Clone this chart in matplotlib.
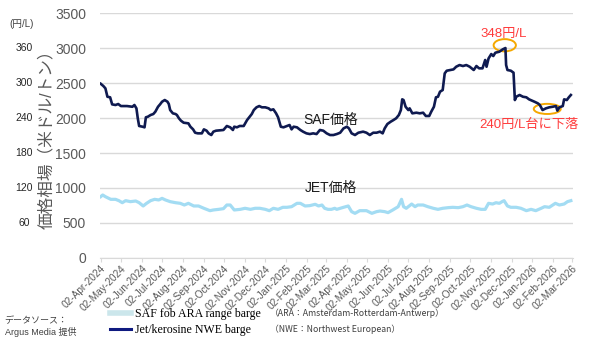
import pandas as pd
import matplotlib
matplotlib.use('Agg')
import matplotlib.pyplot as plt
import matplotlib.dates as mdates
from matplotlib.patches import Ellipse
from matplotlib.lines import Line2D

plt.rcParams['font.family'] = ['Liberation Sans', 'Noto Sans CJK JP', 'DejaVu Sans']

# 価格データ（米ドル/トン）
saf_dates = [
    '2024-04-02', '2024-04-06', '2024-04-09', '2024-04-12', '2024-04-16', '2024-04-19', '2024-04-24', '2024-04-28',
    '2024-05-02', '2024-05-11', '2024-05-19', '2024-05-22', '2024-05-25', '2024-05-27', '2024-05-29', '2024-06-03',
    '2024-06-06', '2024-06-08', '2024-06-11', '2024-06-15', '2024-06-19', '2024-06-22', '2024-06-26', '2024-06-29',
    '2024-07-02', '2024-07-06', '2024-07-10', '2024-07-12', '2024-07-14', '2024-07-18', '2024-07-22', '2024-07-24',
    '2024-07-27', '2024-07-30', '2024-08-03', '2024-08-10', '2024-08-13', '2024-08-17', '2024-08-20', '2024-08-24',
    '2024-08-30', '2024-09-02', '2024-09-06', '2024-09-09', '2024-09-13', '2024-09-16', '2024-09-20', '2024-10-01',
    '2024-10-06', '2024-10-11', '2024-10-15', '2024-10-17', '2024-10-21', '2024-10-25', '2024-10-31', '2024-11-05',
    '2024-11-09', '2024-11-12', '2024-11-15', '2024-11-19', '2024-11-23', '2024-11-27', '2024-12-02', '2024-12-07',
    '2024-12-10', '2024-12-14', '2024-12-18', '2024-12-21', '2024-12-25', '2024-12-29', '2025-01-03', '2025-01-07',
    '2025-01-10', '2025-01-13', '2025-01-18', '2025-01-23', '2025-01-27', '2025-02-01', '2025-02-06', '2025-02-11',
    '2025-02-16', '2025-02-21', '2025-02-26', '2025-03-03', '2025-03-08', '2025-03-13', '2025-03-18', '2025-03-23',
    '2025-03-28', '2025-04-02', '2025-04-05', '2025-04-09', '2025-04-14', '2025-04-19', '2025-04-26', '2025-05-01',
    '2025-05-06', '2025-05-11', '2025-05-16', '2025-05-21', '2025-05-25', '2025-05-28', '2025-06-01', '2025-06-06',
    '2025-06-10', '2025-06-14', '2025-06-18', '2025-06-21', '2025-06-23', '2025-06-25', '2025-06-28', '2025-07-02',
    '2025-07-04', '2025-07-08', '2025-07-14', '2025-07-19', '2025-07-24', '2025-07-28', '2025-08-02', '2025-08-05',
    '2025-08-09', '2025-08-12', '2025-08-15', '2025-08-18', '2025-08-22', '2025-08-25', '2025-08-28', '2025-09-02',
    '2025-09-07', '2025-09-11', '2025-09-16', '2025-09-21', '2025-09-26', '2025-10-01', '2025-10-07', '2025-10-11',
    '2025-10-15', '2025-10-20', '2025-10-24', '2025-10-26', '2025-10-29', '2025-11-02', '2025-11-05', '2025-11-08',
    '2025-11-14', '2025-11-19', '2025-11-23', '2025-11-24', '2025-11-26', '2025-12-01', '2025-12-05', '2025-12-07',
    '2025-12-09', '2025-12-14', '2025-12-19', '2025-12-24', '2025-12-28', '2026-01-05', '2026-01-10', '2026-01-13',
    '2026-01-17', '2026-01-22', '2026-01-27', '2026-02-01', '2026-02-06', '2026-02-08', '2026-02-11', '2026-02-16',
    '2026-02-18', '2026-02-22', '2026-02-25', '2026-02-28',
]
saf_price = [
    2490, 2457, 2424, 2304, 2296, 2195, 2186, 2200,
    2171, 2171, 2161, 2186, 2138, 1996, 1886, 1876,
    1867, 2010, 2019, 2043, 2057, 2090, 2161, 2195,
    2233, 2257, 2233, 2200, 2114, 2067, 2057, 2043,
    1996, 1962, 1933, 1924, 1876, 1838, 1790, 1781,
    1781, 1838, 1819, 1781, 1757, 1805, 1819, 1829,
    1886, 1867, 1829, 1876, 1867, 1886, 1886, 1971,
    2019, 2057, 2114, 2153, 2171, 2153, 2153, 2138,
    2114, 2124, 2067, 2010, 1876, 1867, 1886, 1900,
    1838, 1876, 1867, 1829, 1805, 1781, 1771, 1781,
    1771, 1829, 1819, 1781, 1757, 1757, 1771, 1790,
    1852, 1876, 1852, 1781, 1757, 1790, 1805, 1790,
    1757, 1790, 1790, 1805, 1781, 1852, 1914, 1948,
    1971, 1996, 2043, 2114, 2267, 2257, 2161, 2114,
    2138, 2067, 2076, 2067, 2076, 2029, 2029, 2090,
    2161, 2296, 2304, 2376, 2400, 2638, 2676, 2686,
    2695, 2733, 2757, 2743, 2757, 2733, 2686, 2743,
    2710, 2710, 2829, 2733, 2852, 2914, 2886, 2933,
    2948, 2981, 3000, 2757, 2686, 2676, 2648, 2257,
    2304, 2329, 2304, 2296, 2267, 2233, 2210, 2186,
    2114, 2138, 2153, 2161, 2171, 2105, 2153, 2171,
    2267, 2257, 2296, 2329,
]

jet_dates = [
    '2024-04-02', '2024-04-05', '2024-04-09', '2024-04-17', '2024-04-24', '2024-04-29', '2024-05-04', '2024-05-09',
    '2024-05-16', '2024-05-24', '2024-05-29', '2024-06-04', '2024-06-09', '2024-06-15', '2024-06-21', '2024-06-27',
    '2024-07-02', '2024-07-07', '2024-07-14', '2024-07-22', '2024-07-29', '2024-08-04', '2024-08-10', '2024-08-18',
    '2024-08-25', '2024-09-02', '2024-09-11', '2024-09-16', '2024-09-24', '2024-10-01', '2024-10-06', '2024-10-11',
    '2024-10-17', '2024-10-26', '2024-11-02', '2024-11-10', '2024-11-17', '2024-11-24', '2024-12-02', '2024-12-08',
    '2024-12-14', '2024-12-21', '2024-12-28', '2025-01-03', '2025-01-10', '2025-01-18', '2025-01-23', '2025-01-30',
    '2025-02-06', '2025-02-14', '2025-02-19', '2025-02-24', '2025-02-28', '2025-03-05', '2025-03-10', '2025-03-15',
    '2025-03-18', '2025-03-28', '2025-04-04', '2025-04-09', '2025-04-14', '2025-04-21', '2025-05-01', '2025-05-09',
    '2025-05-16', '2025-05-21', '2025-05-28', '2025-06-02', '2025-06-09', '2025-06-17', '2025-06-22', '2025-06-25',
    '2025-06-29', '2025-07-07', '2025-07-12', '2025-07-16', '2025-07-24', '2025-07-31', '2025-08-08', '2025-08-15',
    '2025-08-22', '2025-08-30', '2025-09-06', '2025-09-14', '2025-09-21', '2025-09-27', '2025-10-03', '2025-10-11',
    '2025-10-18', '2025-10-24', '2025-10-29', '2025-11-04', '2025-11-09', '2025-11-14', '2025-11-18', '2025-11-21',
    '2025-11-26', '2025-12-01', '2025-12-09', '2025-12-16', '2025-12-24', '2025-12-31', '2026-01-07', '2026-01-15',
    '2026-01-20', '2026-01-27', '2026-02-05', '2026-02-11', '2026-02-18', '2026-02-23', '2026-02-28',
]
jet_price = [
    876, 900, 876, 838, 838, 819, 790, 819,
    805, 814, 790, 743, 781, 819, 838, 829,
    852, 829, 805, 790, 781, 757, 781, 743,
    743, 710, 676, 686, 695, 705, 757, 757,
    686, 695, 710, 695, 710, 710, 695, 676,
    710, 695, 724, 724, 733, 781, 781, 743,
    748, 767, 743, 757, 710, 695, 695, 710,
    695, 724, 743, 662, 638, 676, 676, 638,
    662, 671, 662, 648, 686, 733, 838, 733,
    710, 771, 733, 757, 757, 733, 710, 695,
    710, 719, 724, 719, 733, 757, 733, 710,
    695, 695, 781, 771, 790, 781, 805, 819,
    743, 724, 724, 710, 676, 695, 676, 710,
    733, 724, 781, 757, 771, 805, 819,
]

yen_ticks = [60, 120, 180, 240, 300, 360]
yen_pos = [500, 1000, 1500, 2000, 2500, 3000]

saf = pd.Series(saf_price, index=pd.to_datetime(saf_dates))
jet = pd.Series(jet_price, index=pd.to_datetime(jet_dates))

fig = plt.figure(figsize=(5.9, 3.39), dpi=100)
ax = fig.add_axes([0.1695, 0.239, 0.8015, 0.7225])

ax.plot(jet.index, jet.values, color='#a3dcf3', lw=2.3, solid_joinstyle='round')
ax.plot(saf.index, saf.values, color='#0f1a50', lw=1.9, solid_joinstyle='round')

ax.set_ylim(0, 3500)
ax.set_yticks(range(0, 3501, 500))
ax.set_xlim(pd.Timestamp('2024-04-01'), pd.Timestamp('2026-03-03'))
ax.grid(axis='y', color='#d9d9d9', lw=1)
ax.set_axisbelow(True)
for s in ['top', 'right', 'left']:
    ax.spines[s].set_visible(False)
ax.spines['bottom'].set_color('#d9d9d9')

# 毎月2日に目盛り
months = pd.date_range('2024-04-01', '2026-03-01', freq='MS') + pd.Timedelta(days=1)
ax.set_xticks(months)
ax.xaxis.set_major_formatter(mdates.DateFormatter('%d-%b-%Y'))
ax.tick_params(axis='x', length=3, color='#d9d9d9', labelsize=7.3, labelcolor='#595959', pad=1)
for lbl in ax.get_xticklabels():
    lbl.set_rotation(45)
    lbl.set_ha('right')
    lbl.set_rotation_mode('anchor')
ax.tick_params(axis='y', length=0, labelsize=10, labelcolor='#595959', pad=10)

ax.set_ylabel('価格相場（米ドル/トン）', fontsize=12, color='#595959', labelpad=1)

# 円/L 目盛り
ax.text(-0.165, 3350, '(円/L)', transform=ax.get_yaxis_transform(), fontsize=7,
        ha='center', va='center', color='#404040')
for v, p in zip(yen_ticks, yen_pos):
    ax.text(-0.16, p, str(v), transform=ax.get_yaxis_transform(), fontsize=7.5,
            ha='center', va='center', color='#262626')

ax.text(pd.Timestamp('2025-03-09'), 1971, 'SAF価格', fontsize=10, ha='center', va='center', color='#1a1a1a')
ax.text(pd.Timestamp('2025-03-09'), 1000, 'JET価格', fontsize=10, ha='center', va='center', color='#1a1a1a')

ax.text(pd.Timestamp('2025-11-21'), 3196, '348円/L', fontsize=9.5, ha='center', va='center', color='#ff3b3b')
ax.text(pd.Timestamp('2025-12-28'), 1900, '240円/L台に下落', fontsize=9.5, ha='center', va='center', color='#ff3b3b')

x1 = mdates.date2num(pd.Timestamp('2025-11-22'))
x2 = mdates.date2num(pd.Timestamp('2026-01-24'))
ax.add_patch(Ellipse((x1, 3040), 33, 175, fill=False, ec='#f5a800', lw=1.4, clip_on=False))
ax.add_patch(Ellipse((x2, 2130), 40, 145, fill=False, ec='#f5a800', lw=1.4, clip_on=False))

handles = [Line2D([], [], color='#cbe6eb', lw=4),
           Line2D([], [], color='#0f1a80', lw=2.2)]
fig.legend(handles, ['SAF fob ARA range barge', 'Jet/kerosine NWE barge'],
           loc='center left', bbox_to_anchor=(0.176, 0.05), frameon=False,
           prop={'family': 'Liberation Serif', 'size': 8.6}, handlelength=1.8,
           handletextpad=0.35, labelspacing=0.35, borderpad=0)

fig.text(0.458, 0.077, '（ARA：Amsterdam-Rotterdam-Antwerp）', fontsize=6.3, color='#404040',
         va='center', family=['Noto Sans CJK JP'])
fig.text(0.458, 0.029, '（NWE：Northwest European）', fontsize=6.3, color='#404040',
         va='center', family=['Noto Sans CJK JP'])

fig.text(0.008, 0.055, 'データソース：', fontsize=6.5, color='#404040', va='center')
fig.text(0.008, 0.022, 'Argus Media 提供', fontsize=6.5, color='#404040', va='center')

fig.savefig('out.png', dpi=100)
